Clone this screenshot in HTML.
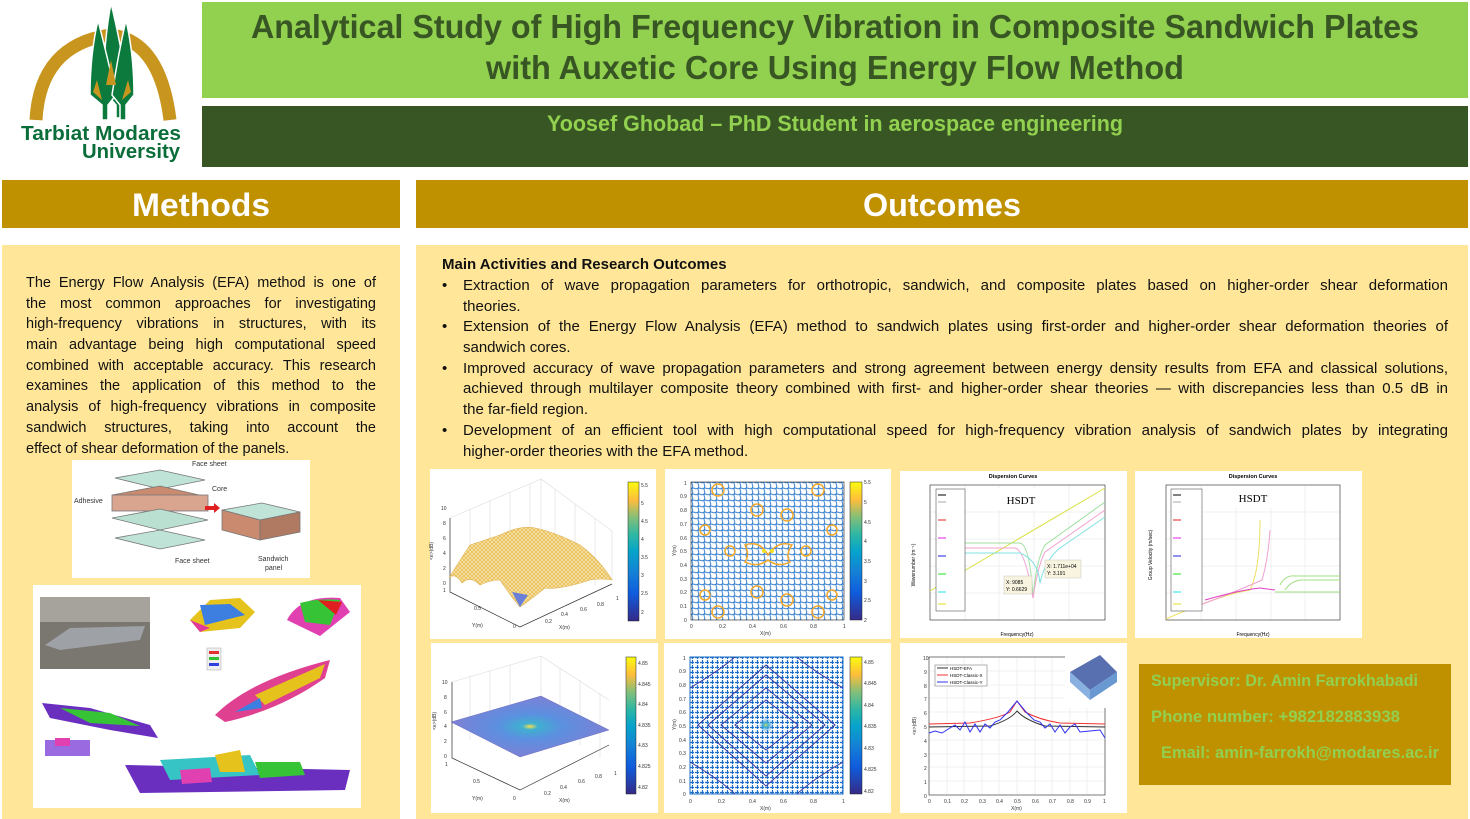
<!DOCTYPE html>
<html><head><meta charset="utf-8"><style>
*{margin:0;padding:0;box-sizing:border-box}
body{width:1470px;height:819px;background:#fff;position:relative;overflow:hidden;font-family:"Liberation Sans",sans-serif}
.a{position:absolute}
.j{text-align:justify;text-align-last:justify;white-space:nowrap;height:20.7px;line-height:20.7px;overflow:visible}
.n{white-space:nowrap;height:20.7px;line-height:20.7px}
.box{position:absolute;background:#fff}
svg{position:absolute;left:0;top:0}
</style></head><body>

<svg width="200" height="168" viewBox="0 0 200 168">
<path d="M36 120 Q40 45 110 35 Q160 40 170 120" fill="none" stroke="#c8961e" stroke-width="13"/>
<g fill="#0b7a3c" stroke="#fff" stroke-width="1.5">
<path d="M111 3 Q120 40 128 90 L122 105 L122 118 L116 118 L116 105 L103 90 Q104 40 111 3Z"/>
<path d="M98 20 Q108 60 116 95 L108 105 L108 120 L102 120 L102 105 L90 95 Q90 55 98 20Z"/>
<path d="M126 20 Q134 55 134 95 L126 105 L126 120 L120 120 L120 105 L112 95 Q118 55 126 20Z"/>
</g>
<g fill="#c8961e"><path d="M97 80 L102 100 L93 92Z"/><path d="M128 80 L131 92 L122 100Z"/><path d="M111 60 L116 85 L106 85Z"/></g>
<text x="101" y="140" text-anchor="middle" font-size="20" font-weight="bold" fill="#0b6e3a" textLength="160" lengthAdjust="spacingAndGlyphs">Tarbiat Modares</text>
<text x="131" y="158" text-anchor="middle" font-size="20" font-weight="bold" fill="#0b6e3a" textLength="98" lengthAdjust="spacingAndGlyphs">University</text>
</svg>

<div class="a" style="left:202px;top:2px;width:1266px;height:96px;background:#92d050"></div>
<svg width="1470" height="100">
<text x="835" y="38" text-anchor="middle" font-size="33" font-weight="bold" fill="#375623" textLength="1168" lengthAdjust="spacingAndGlyphs">Analytical Study of High Frequency Vibration in Composite Sandwich Plates</text>
<text x="835" y="79" text-anchor="middle" font-size="33" font-weight="bold" fill="#375623" textLength="698" lengthAdjust="spacingAndGlyphs">with Auxetic Core Using Energy Flow Method</text>
</svg>
<div class="a" style="left:202px;top:106px;width:1266px;height:61px;background:#375623"></div>
<svg width="1470" height="170"><text x="835" y="131" text-anchor="middle" font-size="22" font-weight="bold" fill="#92d050" textLength="576" lengthAdjust="spacingAndGlyphs">Yoosef Ghobad – PhD Student in aerospace engineering</text></svg>

<div class="a" style="left:2px;top:180px;width:398px;height:48px;background:#bf9000"></div>
<div class="a" style="left:416px;top:180px;width:1052px;height:48px;background:#bf9000"></div>
<svg width="1470" height="240">
<text x="201" y="216" text-anchor="middle" font-size="32" font-weight="bold" fill="#fff" textLength="138" lengthAdjust="spacingAndGlyphs">Methods</text>
<text x="942" y="216" text-anchor="middle" font-size="32" font-weight="bold" fill="#fff" textLength="158" lengthAdjust="spacingAndGlyphs">Outcomes</text>
</svg>

<div class="a" style="left:2px;top:245px;width:398px;height:574px;background:#ffe699"></div>
<div class="a" style="left:416px;top:245px;width:1052px;height:574px;background:#ffe699"></div>

<div class="a" style="left:26px;top:273px;width:350px;font-size:14.5px;color:#111">
<div class="j">The Energy Flow Analysis (EFA) method is one of</div>
<div class="j">the most common approaches for investigating</div>
<div class="j">high-frequency vibrations in structures, with its</div>
<div class="j">main advantage being high computational speed</div>
<div class="j">combined with acceptable accuracy. This research</div>
<div class="j">examines the application of this method to the</div>
<div class="j">analysis of high-frequency vibrations in composite</div>
<div class="j">sandwich structures, taking into account the</div>
<div class="n">effect of shear deformation of the panels.</div>
</div>

<div class="a" style="left:442px;top:255px;font-size:15px;color:#111;font-weight:bold" ><div class="n">Main Activities and Research Outcomes</div></div>
<div class="a" style="left:442px;top:276px;width:1006px;font-size:15px;color:#111">
<div style="position:relative;padding-left:21px"><span class="a" style="left:0;top:0;line-height:20.7px">•</span>
<div class="j">Extraction of wave propagation parameters for orthotropic, sandwich, and composite plates based on higher-order shear deformation</div><div class="n">theories.</div></div>
<div style="position:relative;padding-left:21px"><span class="a" style="left:0;top:0;line-height:20.7px">•</span>
<div class="j">Extension of the Energy Flow Analysis (EFA) method to sandwich plates using first-order and higher-order shear deformation theories of</div><div class="n">sandwich cores.</div></div>
<div style="position:relative;padding-left:21px"><span class="a" style="left:0;top:0;line-height:20.7px">•</span>
<div class="j">Improved accuracy of wave propagation parameters and strong agreement between energy density results from EFA and classical solutions,</div><div class="j">achieved through multilayer composite theory combined with first- and higher-order shear theories — with discrepancies less than 0.5 dB in</div><div class="n">the far-field region.</div></div>
<div style="position:relative;padding-left:21px"><span class="a" style="left:0;top:0;line-height:20.7px">•</span>
<div class="j">Development of an efficient tool with high computational speed for high-frequency vibration analysis of sandwich plates by integrating</div><div class="n">higher-order theories with the EFA method.</div></div>
</div>

<div class="box" style="left:72px;top:460px;width:238px;height:118px"></div>
<div class="box" style="left:33px;top:585px;width:328px;height:223px"></div>
<div class="box" style="left:430px;top:469px;width:226px;height:170px"></div>
<div class="box" style="left:665px;top:469px;width:226px;height:170px"></div>
<div class="box" style="left:900px;top:471px;width:227px;height:167px"></div>
<div class="box" style="left:1135px;top:471px;width:227px;height:167px"></div>
<div class="box" style="left:431px;top:643px;width:227px;height:170px"></div>
<div class="box" style="left:664px;top:643px;width:227px;height:170px"></div>
<div class="box" style="left:900px;top:643px;width:227px;height:170px"></div>
<div class="a" style="left:1139px;top:664px;width:312px;height:121px;background:#bf9000"></div>

<svg width="1470" height="819" font-family="Liberation Sans, sans-serif">
<defs>
<linearGradient id="par" x1="0" y1="1" x2="0" y2="0">
<stop offset="0" stop-color="#352a87"/><stop offset="0.2" stop-color="#0f5cdd"/><stop offset="0.35" stop-color="#1481d6"/><stop offset="0.5" stop-color="#06a4ca"/><stop offset="0.62" stop-color="#2eb7a4"/><stop offset="0.75" stop-color="#87bf77"/><stop offset="0.87" stop-color="#fdbd3c"/><stop offset="1" stop-color="#f9fb0e"/></linearGradient>
<pattern id="bl" width="5" height="5" patternUnits="userSpaceOnUse"><rect width="5" height="5" fill="#fff"/><path d="M0 2.5H4M2.5 0V4" stroke="#1f6fc8" stroke-width="1.2"/></pattern>
<pattern id="bl2" width="6" height="6" patternUnits="userSpaceOnUse"><rect width="6" height="6" fill="#fff"/><path d="M0 3Q3 1 6 3M3 0Q1 3 3 6" stroke="#2a78cc" stroke-width="0.9" fill="none"/></pattern>
<pattern id="mesh" width="4" height="4" patternUnits="userSpaceOnUse"><rect width="4" height="4" fill="#f6e3a8"/><path d="M0 0L4 4M4 0L0 4" stroke="#e8b84a" stroke-width="0.7"/></pattern>
<radialGradient id="cen"><stop offset="0" stop-color="#f9e04a"/><stop offset="0.1" stop-color="#3fb0d0"/><stop offset="0.4" stop-color="#5b90e0"/><stop offset="1" stop-color="#7d80d4"/></radialGradient>
<radialGradient id="cen2"><stop offset="0" stop-color="#f9e04a"/><stop offset="0.08" stop-color="#3fb0d0"/><stop offset="0.3" stop-color="#4090e0" stop-opacity="0"/></radialGradient>
</defs>

<g stroke="#777" stroke-width="0.8">
<polygon points="115,478 160,470 205,480 160,489" fill="#bfe3d6"/>
<polygon points="112,495 160,486 208,497 160,507" fill="#c98a70"/>
<rect x="112" y="495" width="96" height="16" fill="#d9a58f"/>
<polygon points="112,518 160,509 208,520 160,530" fill="#b9e0d0"/>
<polygon points="115,538 160,530 205,540 160,549" fill="#bfe3d6"/>
<polygon points="222,510 262,503 300,512 260,520" fill="#bfe3d6"/>
<polygon points="222,510 260,520 260,540 222,530" fill="#c98a70"/>
<polygon points="260,520 300,512 300,532 260,540" fill="#b07a62"/>
</g>
<path d="M205 508 L215 508" stroke="#e02020" stroke-width="4"/><path d="M214 503 L220 508 L214 513Z" fill="#e02020"/>
<g font-size="7" fill="#333"><text x="192" y="466">Face sheet</text><text x="212" y="491">Core</text><text x="74" y="503">Adhesive</text><text x="175" y="563">Face sheet</text><text x="258" y="561">Sandwich</text><text x="265" y="570">panel</text></g>

<rect x="40" y="597" width="110" height="72" fill="#7a7670"/>
<rect x="40" y="597" width="110" height="25" fill="#a6a39c"/>
<polygon points="45,645 70,628 145,626 140,640 60,650" fill="#9ea2a6"/>
<path d="M190 620 L210 600 L240 598 L255 612 L240 628 L200 632Z" fill="#e6c21c"/><path d="M200 605 L230 604 L245 615 L205 625Z" fill="#3c7fe0"/><path d="M190 620 L200 632 L210 628Z" fill="#e03a9a"/>
<path d="M287 620 Q300 595 340 598 L350 612 L320 636 Z" fill="#e040b0"/><path d="M300 603 Q320 598 340 600 L330 625 L305 622Z" fill="#36c436"/><path d="M318 600 L342 602 L336 615Z" fill="#e02020"/>
<rect x="207" y="648" width="14" height="22" fill="#eee" stroke="#aaa" stroke-width=".5"/><rect x="209" y="651" width="10" height="3" fill="#e03030"/><rect x="209" y="657" width="10" height="3" fill="#30c030"/><rect x="209" y="663" width="10" height="3" fill="#3040e0"/>
<path d="M215 715 Q250 680 330 660 L325 678 Q280 710 225 722Z" fill="#e04090"/><path d="M255 695 L325 664 L320 678 L265 705Z" fill="#e6c21c"/><path d="M235 712 L260 698 L262 708Z" fill="#3c7fe0"/>
<path d="M42 703 L90 708 L150 725 L158 738 L110 730 L50 718Z" fill="#6b2fc0"/><path d="M60 708 L110 713 L140 726 L90 723Z" fill="#36c436"/>
<rect x="45" y="740" width="45" height="16" fill="#9a6ae0"/><rect x="55" y="738" width="15" height="8" fill="#e040b0"/>
<path d="M125 765 L350 770 L345 790 L140 793 Z" fill="#6b2fc0"/><path d="M160 760 L250 755 L260 775 L170 780Z" fill="#36c4c4"/><path d="M215 755 L240 750 L245 772 L220 772Z" fill="#e6c21c"/><path d="M255 762 L300 762 L305 775 L260 778Z" fill="#36c436"/><path d="M180 770 L210 768 L212 782 L182 784Z" fill="#e040b0"/>

<g stroke="#ddd" stroke-width="0.6" fill="none">
<path d="M450 518 L541 479 L612 531 L612 581 M541 479 L541 545 M450 518 L450 583 M470 509 L470 575 M490 500 L490 565 M510 492 L510 558 M530 484 L530 550 M555 490 L555 555 M575 504 L575 570 M595 519 L595 585"/>
</g>
<path d="M450 518 L450 592 L520 627 L612 584" stroke="#333" stroke-width="0.7" fill="none"/>
<path d="M449 578 Q460 560 470 545 Q485 540 500 535 Q520 525 535 528 Q555 532 580 545 Q600 560 612 580 Q600 578 590 580 Q560 590 545 588 Q530 600 520 607 Q512 598 500 580 Q490 580 480 585 Q470 575 462 583 Q455 572 449 578Z" fill="url(#mesh)" stroke="#e0b050" stroke-width="0.6"/>
<path d="M512 592 L520 607 L528 595Z" fill="#6a80d8"/>
<g font-size="5" fill="#333"><text x="441" y="510">10</text><text x="443" y="525">8</text><text x="443" y="540">6</text><text x="443" y="555">4</text><text x="443" y="570">2</text><text x="443" y="585">0</text><text x="443" y="592">1</text><text x="474" y="610">0.5</text><text x="472" y="627">Y(m)</text><text x="513" y="628">0</text><text x="545" y="623">0.2</text><text x="561" y="616">0.4</text><text x="580" y="611">0.6</text><text x="597" y="606">0.8</text><text x="559" y="629">X(m)</text><text x="616" y="600">1</text><text x="433" y="560" transform="rotate(-90 433 560)">&lt;e&gt;(dB)</text></g>
<rect x="628" y="482" width="11" height="139" fill="url(#par)" stroke="#222" stroke-width="0.5"/>
<g font-size="5" fill="#333"><text x="641" y="487">5.5</text><text x="641" y="505">5</text><text x="641" y="523">4.5</text><text x="641" y="541">4</text><text x="641" y="559">3.5</text><text x="641" y="577">3</text><text x="641" y="595">2.5</text><text x="641" y="614">2</text></g>

<rect x="691" y="482" width="153" height="138" fill="url(#bl2)" stroke="#222" stroke-width="0.6"/>
<g fill="none" stroke="#f4a82a" stroke-width="1.5">
<circle cx="718" cy="490" r="6"/><circle cx="757" cy="510" r="6"/><circle cx="787" cy="515" r="6"/><circle cx="818" cy="490" r="6"/><circle cx="705" cy="530" r="5"/><circle cx="832" cy="530" r="5"/><circle cx="718" cy="612" r="6"/><circle cx="757" cy="592" r="6"/><circle cx="787" cy="600" r="6"/><circle cx="818" cy="612" r="6"/><circle cx="705" cy="595" r="5"/><circle cx="832" cy="595" r="5"/>
<path d="M745 545 Q760 540 768 555 Q778 540 792 545 Q785 555 790 562 Q778 568 768 560 Q758 568 745 562 Q750 555 745 545Z"/>
<circle cx="730" cy="551" r="5"/><circle cx="806" cy="551" r="5"/>
</g>
<circle cx="764" cy="551" r="2" fill="#f2e020"/><circle cx="772" cy="551" r="2" fill="#f2e020"/>
<g font-size="5" fill="#333"><text x="684" y="485">1</text><text x="680" y="498">0.9</text><text x="680" y="512">0.8</text><text x="680" y="526">0.7</text><text x="680" y="540">0.6</text><text x="680" y="553">0.5</text><text x="680" y="567">0.4</text><text x="680" y="581">0.3</text><text x="680" y="594">0.2</text><text x="680" y="608">0.1</text><text x="684" y="622">0</text><text x="690" y="628">0</text><text x="719" y="628">0.2</text><text x="749" y="628">0.4</text><text x="780" y="628">0.6</text><text x="810" y="628">0.8</text><text x="843" y="628">1</text><text x="760" y="635">X(m)</text><text x="676" y="556" transform="rotate(-90 676 556)">Y(m)</text></g>
<rect x="850" y="482" width="12" height="138" fill="url(#par)" stroke="#222" stroke-width="0.5"/>
<g font-size="5" fill="#333"><text x="864" y="484">5.5</text><text x="864" y="504">5</text><text x="864" y="524">4.5</text><text x="864" y="543">4</text><text x="864" y="563">3.5</text><text x="864" y="583">3</text><text x="864" y="602">2.5</text><text x="864" y="622">2</text></g>

<g stroke="#e2e2e2" stroke-width="0.5"><path d="M965 485V620M999 485V620M1034 485V620M1069 485V620M930 512H1105M930 539H1105M930 566H1105M930 593H1105"/></g>
<rect x="930" y="485" width="175" height="135" fill="none" stroke="#222" stroke-width="0.6"/>
<text x="1013" y="478" font-size="5.5" font-weight="bold" text-anchor="middle">Dispersion Curves</text>
<rect x="995" y="488" width="54" height="22" fill="#fff"/><text x="1021" y="504" font-family="Liberation Serif" font-size="11" text-anchor="middle">HSDT</text>
<g fill="none" stroke-width="1">
<path d="M930 591 L1105 488" stroke="#d8e040"/>
<path d="M965 543 H1020 Q1030 545 1033 598 Q1036 560 1045 545 L1105 502" stroke="#9fe0a0"/>
<path d="M965 548 H1015 Q1025 550 1033 598 Q1038 565 1045 552 L1105 510" stroke="#f0a0d0"/>
<path d="M965 553 H1020 Q1038 560 1040 583 Q1045 560 1060 548 L1105 517" stroke="#80e0e0"/>
</g>
<rect x="936" y="489" width="29" height="122" fill="#fff" stroke="#333" stroke-width="0.5"/>
<g stroke-width="1"><path d="M938 495H946" stroke="#000"/><path d="M938 502H946" stroke="#aaa"/><path d="M938 520H946" stroke="#e02020"/><path d="M938 538H946" stroke="#e020e0"/><path d="M938 556H946" stroke="#2020e0"/><path d="M938 574H946" stroke="#20e020"/><path d="M938 592H946" stroke="#20e0e0"/><path d="M938 604H946" stroke="#e0e020"/></g>
<rect x="1004" y="576" width="28" height="18" fill="#f8f4e0" stroke="#bbb" stroke-width=".4"/><text x="1006" y="584" font-size="5">X: 9085</text><text x="1006" y="591" font-size="5">Y: 0.6629</text>
<rect x="1045" y="560" width="36" height="18" fill="#f8f4e0" stroke="#bbb" stroke-width=".4"/><text x="1047" y="568" font-size="5">X: 1.711e+04</text><text x="1047" y="575" font-size="5">Y: 3.191</text>
<text x="915" y="565" font-size="5" transform="rotate(-90 915 565)" text-anchor="middle">Wavenumber (m⁻¹)</text><text x="1017" y="636" font-size="5" text-anchor="middle">Frequency(Hz)</text>

<g stroke="#e2e2e2" stroke-width="0.5"><path d="M1201 485V620M1236 485V620M1271 485V620M1305 485V620M1166 512H1340M1166 539H1340M1166 566H1340M1166 593H1340"/></g>
<rect x="1166" y="485" width="174" height="135" fill="none" stroke="#222" stroke-width="0.6"/>
<text x="1253" y="478" font-size="5.5" font-weight="bold" text-anchor="middle">Dispersion Curves</text>
<rect x="1226" y="486" width="54" height="22" fill="#fff"/><text x="1253" y="502" font-family="Liberation Serif" font-size="11" text-anchor="middle">HSDT</text>
<g fill="none" stroke-width="1">
<path d="M1166 619 Q1220 595 1250 590 Q1260 570 1260 520" stroke="#f0e060"/>
<path d="M1200 605 Q1240 590 1262 580 Q1268 560 1270 530" stroke="#f0a0d0"/>
<path d="M1205 600 Q1240 590 1260 588 L1275 590" stroke="#e040c0"/>
<path d="M1275 592 L1340 592 M1280 585 Q1285 575 1295 576 L1340 576 M1285 590 Q1290 582 1300 580 L1340 580" stroke="#a0e080"/>
</g>
<rect x="1171" y="489" width="31" height="122" fill="#fff" stroke="#333" stroke-width="0.5"/>
<g stroke-width="1"><path d="M1173 495H1181" stroke="#000"/><path d="M1173 502H1181" stroke="#aaa"/><path d="M1173 520H1181" stroke="#e02020"/><path d="M1173 538H1181" stroke="#e020e0"/><path d="M1173 556H1181" stroke="#2020e0"/><path d="M1173 574H1181" stroke="#20e020"/><path d="M1173 592H1181" stroke="#20e0e0"/><path d="M1173 604H1181" stroke="#e0e020"/></g>
<text x="1152" y="555" font-size="5" transform="rotate(-90 1152 555)" text-anchor="middle">Group Velocity (m/sec)</text><text x="1253" y="636" font-size="5" text-anchor="middle">Frequency(Hz)</text>

<g stroke="#ddd" stroke-width="0.6" fill="none"><path d="M452 682 L541 656 L609 700 M541 656 L541 720 M452 682 L452 750 M470 675V740M490 670V735M510 665V728M560 668V732M580 680V745M600 693V758"/></g>
<path d="M452 682 L452 758 L520 790 L609 745" stroke="#333" stroke-width="0.7" fill="none"/>
<polygon points="451,722 541,696 609,730 520,757" fill="url(#cen)" stroke="#7070c0" stroke-width=".5"/>
<g font-size="5" fill="#333"><text x="442" y="684">10</text><text x="444" y="699">8</text><text x="444" y="714">6</text><text x="444" y="728">4</text><text x="444" y="743">2</text><text x="444" y="758">0</text><text x="445" y="766">1</text><text x="473" y="783">0.5</text><text x="472" y="800">Y(m)</text><text x="513" y="800">0</text><text x="544" y="795">0.2</text><text x="560" y="789">0.4</text><text x="578" y="783">0.6</text><text x="595" y="778">0.8</text><text x="559" y="802">X(m)</text><text x="614" y="775">1</text><text x="436" y="730" transform="rotate(-90 436 730)">&lt;e&gt;(dB)</text></g>
<rect x="626" y="657" width="10" height="137" fill="url(#par)" stroke="#222" stroke-width="0.5"/>
<g font-size="5" fill="#333"><text x="638" y="665">4.85</text><text x="638" y="686">4.845</text><text x="638" y="706">4.84</text><text x="638" y="727">4.835</text><text x="638" y="747">4.83</text><text x="638" y="768">4.825</text><text x="638" y="789">4.82</text></g>

<rect x="690" y="657" width="153" height="137" fill="url(#bl)" stroke="#1f6fc8" stroke-width="1"/>
<g fill="none" stroke="#3a3aa0" stroke-width="1">
<path d="M766 665 L835 725 L766 786 L698 725Z"/><path d="M766 675 L825 725 L766 776 L708 725Z"/><path d="M766 688 L812 725 L766 763 L721 725Z"/><path d="M766 700 L798 725 L766 750 L735 725Z"/>
<path d="M690 688 Q720 670 735 657 M843 688 Q812 670 797 657 M690 762 Q720 780 735 794 M843 762 Q812 780 797 794"/>
</g>
<circle cx="766" cy="725" r="25" fill="url(#cen2)"/>
<g font-size="5" fill="#333"><text x="683" y="660">1</text><text x="679" y="673">0.9</text><text x="679" y="687">0.8</text><text x="679" y="701">0.7</text><text x="679" y="714">0.6</text><text x="679" y="728">0.5</text><text x="679" y="742">0.4</text><text x="679" y="755">0.3</text><text x="679" y="769">0.2</text><text x="679" y="783">0.1</text><text x="683" y="796">0</text><text x="689" y="803">0</text><text x="718" y="803">0.2</text><text x="749" y="803">0.4</text><text x="780" y="803">0.6</text><text x="810" y="803">0.8</text><text x="842" y="803">1</text><text x="760" y="810">X(m)</text><text x="676" y="730" transform="rotate(-90 676 730)">Y(m)</text></g>
<rect x="850" y="657" width="12" height="137" fill="url(#par)" stroke="#222" stroke-width="0.5"/>
<g font-size="5" fill="#333"><text x="864" y="664">4.85</text><text x="864" y="685">4.845</text><text x="864" y="707">4.84</text><text x="864" y="728">4.835</text><text x="864" y="750">4.83</text><text x="864" y="771">4.825</text><text x="864" y="793">4.82</text></g>

<g stroke="#e2e2e2" stroke-width="0.5"><path d="M947 657V795M964 657V795M982 657V795M999 657V795M1017 657V795M1035 657V795M1052 657V795M1070 657V795M1087 657V795M929 671H1105M929 685H1105M929 698H1105M929 712H1105M929 726H1105M929 740H1105M929 754H1105M929 767H1105M929 781H1105"/></g>
<rect x="929" y="657" width="176" height="138" fill="none" stroke="#222" stroke-width="0.6"/>
<path d="M929 727 L990 726 Q1010 720 1017 711 Q1025 720 1045 726 L1105 727" stroke="#333" fill="none" stroke-width="1"/>
<path d="M929 724 L970 723 Q1000 718 1010 712 L1017 701 L1025 712 Q1040 720 1060 723 L1105 724" stroke="#f03030" fill="none" stroke-width="1"/>
<path d="M929 733 L935 731 L942 733 L950 728 L955 725 L960 730 L965 722 L970 732 L975 724 L980 732 L985 724 L990 728 L995 722 L1000 720 L1008 712 L1017 701 L1026 712 L1034 720 L1040 722 L1045 728 L1050 724 L1055 732 L1060 725 L1065 733 L1070 727 L1075 724 L1080 732 L1090 731 L1100 730 L1105 738" stroke="#3030f0" fill="none" stroke-width="1"/>
<rect x="935" y="665" width="52" height="21" fill="#fff" stroke="#666" stroke-width="0.5"/>
<g font-size="4.5"><path d="M937 668H948" stroke="#333"/><text x="950" y="670">HSDT-EFA</text><path d="M937 675H948" stroke="#f03030"/><text x="950" y="677">HSDT-Classic-X</text><path d="M937 682H948" stroke="#3030f0"/><text x="950" y="684">HSDT-Classic-Y</text></g>
<rect x="1065" y="650" width="55" height="58" fill="#fff"/>
<polygon points="1070,672 1100,655 1117,672 1090,690" fill="#5870b0"/><polygon points="1070,672 1090,690 1090,700 1070,682" fill="#88b0e0"/><polygon points="1090,690 1117,672 1117,682 1090,700" fill="#6a98d0"/>
<g font-size="5" fill="#333"><text x="923" y="660">10</text><text x="924" y="674">9</text><text x="924" y="688">8</text><text x="924" y="701">7</text><text x="924" y="715">6</text><text x="924" y="729">5</text><text x="924" y="743">4</text><text x="924" y="757">3</text><text x="924" y="770">2</text><text x="924" y="784">1</text><text x="924" y="798">0</text><text x="928" y="803">0</text><text x="944" y="803">0.1</text><text x="961" y="803">0.2</text><text x="979" y="803">0.3</text><text x="996" y="803">0.4</text><text x="1014" y="803">0.5</text><text x="1032" y="803">0.6</text><text x="1049" y="803">0.7</text><text x="1067" y="803">0.8</text><text x="1084" y="803">0.9</text><text x="1103" y="803">1</text><text x="1011" y="810">X(m)</text><text x="916" y="735" transform="rotate(-90 916 735)">&lt;e&gt;(dB)</text></g>

<g font-size="17" font-weight="bold" fill="#92d050">
<text x="1151" y="686" textLength="267" lengthAdjust="spacingAndGlyphs">Supervisor: Dr. Amin Farrokhabadi</text>
<text x="1151" y="722" textLength="249" lengthAdjust="spacingAndGlyphs">Phone number: +982182883938</text>
<text x="1161" y="758" textLength="278" lengthAdjust="spacingAndGlyphs">Email: amin-farrokh@modares.ac.ir</text>
</g>
</svg>
</body></html>
